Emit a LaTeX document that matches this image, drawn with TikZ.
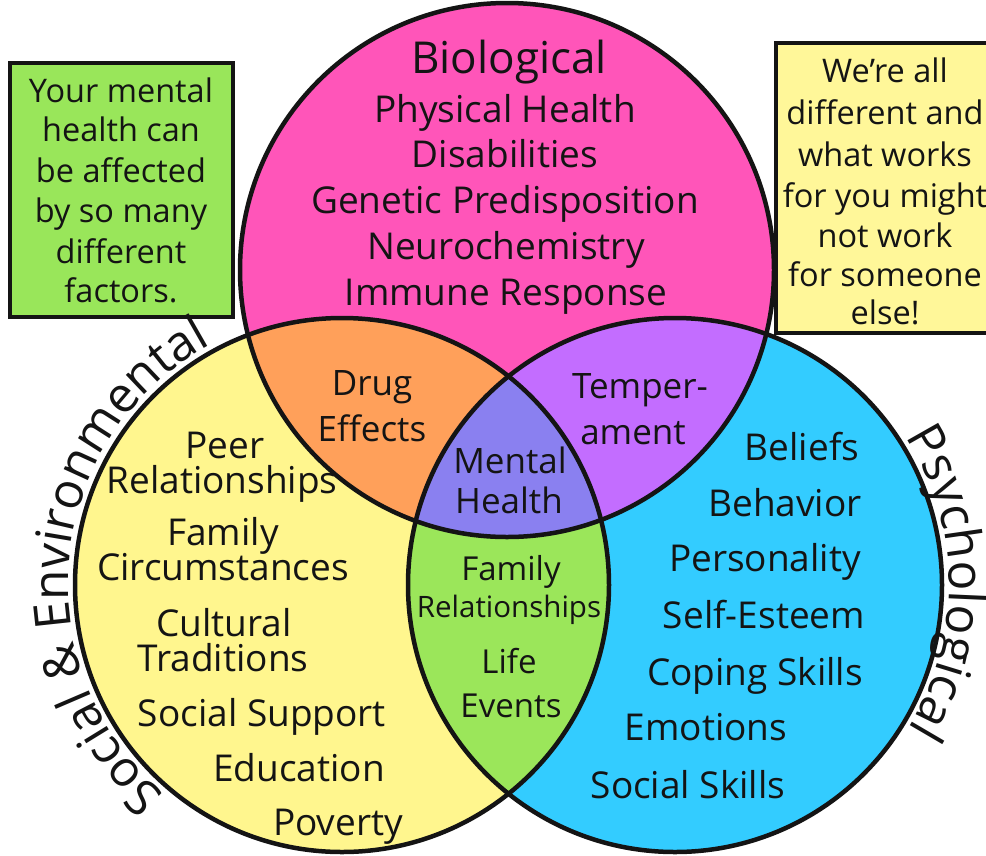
\documentclass[tikz,border=0pt]{standalone}
\usepackage{fontspec}
\setmainfont{Open Sans}
\definecolor{cpink}{HTML}{FF55B9}
\definecolor{cyellow}{HTML}{FFF68E}
\definecolor{cblue}{HTML}{33CCFF}
\definecolor{corange}{HTML}{FFA05A}
\definecolor{cpurple}{HTML}{C36DFF}
\definecolor{cgreen}{HTML}{9BE65A}
\definecolor{ccenter}{HTML}{8A80F0}
\definecolor{cnoteg}{HTML}{99E65A}
\definecolor{cnotey}{HTML}{FFF799}
\definecolor{ink}{HTML}{141414}
\newcommand\fsz[1]{\fontsize{#1}{#1}\selectfont}
\newcommand\arcfont{\fontsize{49.5}{49.5}\selectfont}
\newdimen\chw
\newdimen\totw
\newbox\chbox
\newcommand\measurechar[1]{\pgfinterruptpicture\global\setbox\chbox=\hbox{\arcfont #1}\endpgfinterruptpicture\global\chw=\wd\chbox}
\begin{document}
\begin{tikzpicture}[x=1pt,y=-1pt,
  ring/.style={draw=ink, line width=4.5pt},
  notebox/.style={draw=ink, line width=4pt, inner sep=0pt},
  txt/.style={anchor=base, inner sep=0pt, text=ink},
  item/.style={txt, font=\fsz{37}},
  titletxt/.style={txt, font=\fsz{44}},
  midtxt/.style={txt, font=\fsz{35}},
  lenstxt/.style={txt, font=\fsz{33}},
  notetxt/.style={txt, font=\fsz{32.5}},
  arcchar/.style={txt, font=\arcfont}]
\useasboundingbox (0,0) rectangle (986,855);
\clip (0,0) rectangle (986,855);
\coordinate (T) at (507,270);
\coordinate (L) at (342,585);
\coordinate (R) at (675,585);
% fills
\fill[cpink] (T) circle[radius=267];
\fill[cyellow] (L) circle[radius=267];
\fill[cblue] (R) circle[radius=267];
\begin{scope}
  \clip (L) circle[radius=267];
  \fill[cgreen] (R) circle[radius=267];
\end{scope}
\begin{scope}
  \clip (T) circle[radius=267];
  \fill[corange] (L) circle[radius=267];
  \fill[cpurple] (R) circle[radius=267];
  \clip (L) circle[radius=267];
  \fill[ccenter] (R) circle[radius=267];
\end{scope}
\draw[ring] (T) circle[radius=267];
\draw[ring] (L) circle[radius=267];
\draw[ring] (R) circle[radius=267];
% note boxes
\node[notebox, fill=cnoteg, minimum width=223pt, minimum height=254pt] (gbox) at (121.5,190) {};
\node[notebox, fill=cnotey, minimum width=219pt, minimum height=290pt] (ybox) at (885.5,188) {};
\node[notetxt] (g1) at (121,102) {Your mental};
\node[notetxt] (g2) at (121,141) {health can};
\node[notetxt] (g3) at (121,182) {be affected};
\node[notetxt] (g4) at (121,222) {by so many};
\node[notetxt] (g5) at (121,263) {different};
\node[notetxt] (g6) at (121,302) {factors.};
\node[notetxt] (y1) at (885,82) {We're all};
\node[notetxt] (y2) at (885,124) {different and};
\node[notetxt] (y3) at (885,166) {what works};
\node[notetxt] (y4) at (885,207) {for you might};
\node[notetxt] (y5) at (885,247) {not work};
\node[notetxt] (y6) at (885,286) {for someone};
\node[notetxt] (y7) at (885,324) {else!};
% biological
\node[titletxt] (bio) at (509,73) {Biological};
\node[item] (b1) at (505,122) {Physical Health};
\node[item] (b2) at (505,167) {Disabilities};
\node[item] (b3) at (505,213) {Genetic Predisposition};
\node[item] (b4) at (506,259) {Neurochemistry};
\node[item] (b5) at (506,305) {Immune Response};
% intersections
\node[midtxt] (d1) at (372,395) {Drug};
\node[midtxt] (d2) at (372,441) {Effects};
\node[midtxt] (t1) at (640,398) {Temper-};
\node[midtxt] (t2) at (633,444) {ament};
\node[midtxt] (m1) at (510,473) {Mental};
\node[midtxt] (m2) at (509,513) {Health};
\node[lenstxt] (f1) at (511,580) {Family};
\node[lenstxt, font=\fsz{29.5}] (f2) at (509,617) {Relationships};
\node[lenstxt] (f3) at (509,673) {Life};
\node[lenstxt] (f4) at (511,717) {Events};
% social & environmental
\node[item] (s1) at (225,458) {Peer};
\node[item] (s2) at (222,493) {Relationships};
\node[item] (s3) at (223,545) {Family};
\node[item] (s4) at (223,580) {Circumstances};
\node[item] (s5) at (224,636) {Cultural};
\node[item] (s6) at (223,671) {Traditions};
\node[item] (s7) at (262,726) {Social Support};
\node[item] (s8) at (299,781) {Education};
\node[item] (s9) at (338,835) {Poverty};
% psychological
\node[item] (p1) at (802,460) {Beliefs};
\node[item] (p2) at (785,516) {Behavior};
\node[item] (p3) at (765,571) {Personality};
\node[item] (p4) at (764,628) {Self-Esteem};
\node[item] (p5) at (755,685) {Coping Skills};
\node[item] (p6) at (706,740) {Emotions};
\node[item] (p7) at (688,798) {Social Skills};
% curved labels, one character at a time
\measurechar{Social \& Environmental}\global\totw=\chw
\pgfmathsetmacro\startA{185.8-\totw*28.64789/274}
\foreach \ch [remember=\nextA as \curA (initially \startA), count=\k] in {S,o,c,i,a,l,\ ,\&,\ ,E,n,v,i,r,o,n,m,e,n,t,a,l}{
  \measurechar{\ch}
  \pgfmathsetmacro\midA{\curA+\chw*28.64789/274}
  \pgfmathsetmacro\nextA{\curA+\chw*57.29578/274}
  \path (L) ++(\midA:274) node[arcchar, rotate={-(\midA)-90}] (sa\k) {\ch};
}
\measurechar{Psychological}\global\totw=\chw
\pgfmathsetmacro\startB{-0.5-\totw*28.64789/274}
\foreach \ch [remember=\nextB as \curB (initially \startB), count=\k] in {P,s,y,c,h,o,l,o,g,i,c,a,l}{
  \measurechar{\ch}
  \pgfmathsetmacro\midB{\curB+\chw*28.64789/274}
  \pgfmathsetmacro\nextB{\curB+\chw*57.29578/274}
  \path (R) ++(\midB:274) node[arcchar, rotate={-(\midB)-90}] (pa\k) {\ch};
}
\end{tikzpicture}
\end{document}
